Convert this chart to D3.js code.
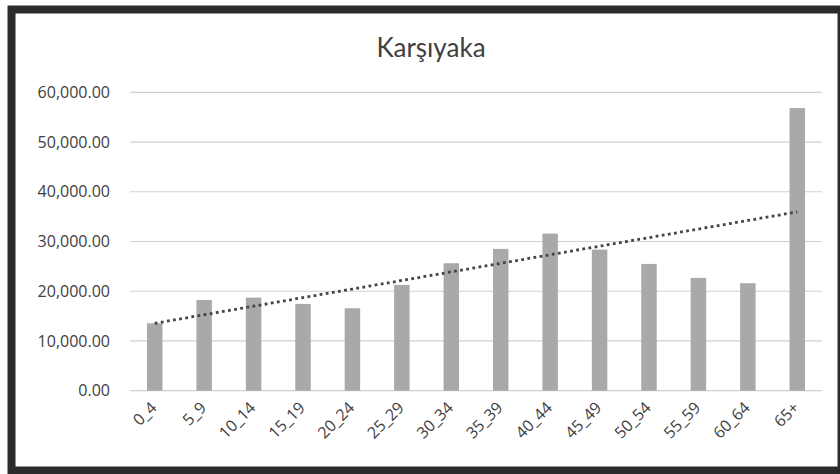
<!DOCTYPE html>
<html>
<head>
<meta charset="utf-8">
<script src="https://cdn.jsdelivr.net/npm/d3@7/dist/d3.min.js"></script>
<style>
  html, body { margin: 0; padding: 0; background: #fff; }
  svg { display: block; }
  text { fill: #404040; }
</style>
</head>
<body>
<svg id="chart" width="840" height="474"></svg>
<script>
// Population by age group, Karşıyaka
const title = "Karşıyaka";
const ageGroups = ["0_4", "5_9", "10_14", "15_19", "20_24", "25_29", "30_34",
                   "35_39", "40_44", "45_49", "50_54", "55_59", "60_64", "65+"];
const population = [13560, 18250, 18710, 17440, 16580, 21270, 25630,
                    28510, 31590, 28370, 25490, 22680, 21610, 56820];
const yTicks = [0, 10000, 20000, 30000, 40000, 50000, 60000];

const W = 840, H = 474;
const plot = { left: 130, right: 822, top: 92.3, bottom: 390.7 };
const labelFont = "'Open Sans', Lato, sans-serif";

const svg = d3.select("#chart");

// Frame
svg.append("rect").attr("x", 0).attr("y", 0).attr("width", W).attr("height", H).attr("fill", "#fff");
svg.append("rect")
  .attr("x", 11.5).attr("y", 9.5).attr("width", 830).attr("height", 461)
  .attr("fill", "none").attr("stroke", "#2b2b2b").attr("stroke-width", 8);

const x = d3.scaleBand().domain(ageGroups).range([plot.left, plot.right]).paddingInner(0.687).paddingOuter(0.3435);
const y = d3.scaleLinear().domain([0, 60000]).range([plot.bottom, plot.top]);

// Gridlines
svg.append("g")
  .selectAll("line").data(yTicks).join("line")
  .attr("x1", plot.left).attr("x2", plot.right)
  .attr("y1", d => y(d)).attr("y2", d => y(d))
  .attr("stroke", "#d0d0d0").attr("stroke-width", 1.2);

// Y axis labels
const yAxis = d3.axisLeft(y).tickValues(yTicks).tickSize(0).tickPadding(0)
  .tickFormat(d3.format(",.2f"));
svg.append("g").attr("transform", `translate(${plot.left - 20},0)`).call(yAxis)
  .call(g => g.select(".domain").remove())
  .call(g => g.selectAll("text").attr("font-size", 16).attr("fill", "#404040")
    .style("font-family", labelFont));

// Bars
svg.append("g")
  .selectAll("rect").data(ageGroups).join("rect")
  .attr("x", d => x(d))
  .attr("width", x.bandwidth())
  .attr("y", (d, i) => y(population[i]))
  .attr("height", (d, i) => y(0) - y(population[i]))
  .attr("fill", "#a9a9a9");

// X axis labels, rotated
const xAxis = d3.axisBottom(x).tickSize(0).tickPadding(0);
svg.append("g").attr("transform", `translate(0,${plot.bottom})`).call(xAxis)
  .call(g => g.select(".domain").remove())
  .call(g => g.selectAll("text")
    .attr("font-size", 16).attr("fill", "#404040")
    .style("font-family", labelFont)
    .attr("text-anchor", "end")
    .attr("dy", 0)
    .attr("transform", "translate(3,18) rotate(-45)"));

// Linear trendline (least squares over category index)
const n = population.length;
const xs = d3.range(1, n + 1);
const mx = d3.mean(xs), my = d3.mean(population);
const slope = d3.sum(xs, (v, i) => (v - mx) * (population[i] - my)) / d3.sum(xs, v => (v - mx) ** 2);
const intercept = my - slope * mx;
const trend = xs.map(v => ({ cat: ageGroups[v - 1], val: intercept + slope * v }));
svg.append("path")
  .datum(trend)
  .attr("d", d3.line().x(d => x(d.cat) + x.bandwidth() / 2).y(d => y(d.val)))
  .attr("fill", "none").attr("stroke", "#444").attr("stroke-width", 2.8)
  .attr("stroke-dasharray", "2.8 3.4");

// Title
svg.append("text").attr("x", 431).attr("y", 57).attr("text-anchor", "middle")
  .style("font-family", "Lato, 'Open Sans', sans-serif")
  .attr("font-size", 26).attr("fill", "#333").text(title);
</script>
</body>
</html>
